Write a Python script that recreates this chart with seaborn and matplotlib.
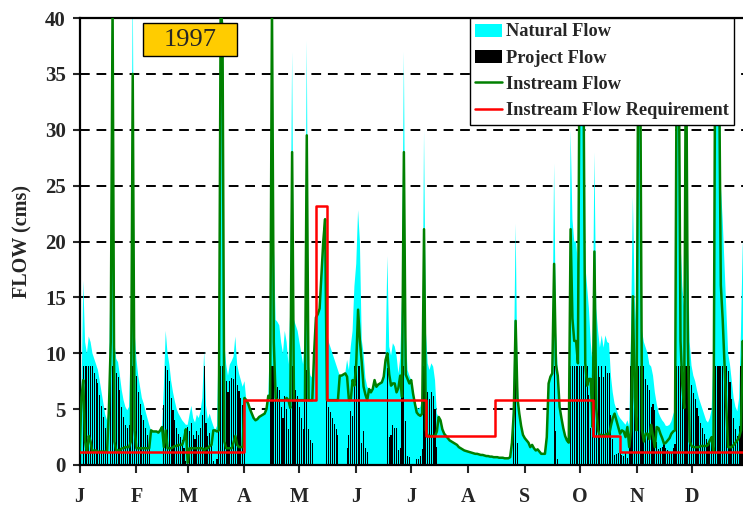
import numpy as np
import matplotlib
matplotlib.use('Agg')
import matplotlib.pyplot as plt
import seaborn as sns
from matplotlib.patches import Patch, Rectangle
from matplotlib.lines import Line2D

# daily flows (cms), Jan 1 .. Dec 31 1997, one line per month
natural = [
    1.0, 6, 16.5, 11, 10, 11.5, 11, 10, 9.5, 9, 8.5, 7.5, 6.5, 5.5, 4.5, 4, 5, 20, 50, 11, 9.5, 9.2, 8, 6.7, 5.8, 5.2, 4.9, 5.2, 11, 44, 12,
    9.5, 8, 7, 6, 5.5, 4.8, 4.2, 3.6, 3.1, 3.0, 3.0, 3.0, 2.9, 3.1, 3.4, 7, 12, 10, 9, 7.5, 6.5, 5.7, 5, 4.6, 4.3, 4.0, 3.8, 3.6,
    3.6, 4.5, 5.3, 4.2, 3.8, 4.5, 4.2, 4.8, 6, 10.2, 5.3, 4.1, 4.6, 4, 3.5, 3.1, 3.5, 12, 50, 48, 11, 9, 8, 9, 9.3, 9.7, 11.5, 9, 8.2, 7.6, 7,
    7.5, 5.8, 5.5, 5.0, 4.6, 4.2, 4.0, 4.1, 4.3, 4.4, 4.5, 4.6, 5, 6.2, 12, 50, 20, 13, 12.8, 12.5, 11, 10, 12, 11, 9, 14, 37, 13, 12.5, 12,
    11, 10, 9, 12, 38, 9, 8, 7.8, 10, 13.2, 13.5, 14, 17, 20, 22, 12, 11, 10.5, 10, 9.5, 9, 8.5, 8, 8, 8.1, 8.2, 9.4, 8.5, 10.6, 12, 16,
    18, 22.8, 20, 11.2, 10, 7.8, 7, 6.8, 6.5, 6.8, 7.6, 7, 7.2, 7.3, 7.4, 7.9, 9.4, 18.7, 10.6, 9.8, 10.9, 10.6, 9.8, 8.2, 9.5, 15, 37, 12, 8.5, 8,
    7.6, 6.4, 5.5, 5.2, 5, 5.2, 6, 30, 12, 9.1, 8.5, 9.1, 8.8, 7.6, 4.6, 4.3, 4.0, 3.2, 2.8, 2.6, 2.4, 2.2, 2.1, 2.0, 1.9, 1.8, 1.6, 1.5, 1.4, 1.3, 1.25,
    1.2, 1.15, 1.1, 1.05, 1.0, 1.0, 0.95, 0.9, 0.9, 0.85, 0.8, 0.8, 0.75, 0.75, 0.7, 0.7, 0.7, 0.65, 0.65, 0.65, 0.6, 0.6, 0.6, 0.7, 2.0, 8, 21.6, 8, 4.6, 3.5, 2.7,
    2.4, 2.2, 2.0, 1.6, 1.8, 1.5, 1.3, 1.4, 1.2, 1.0, 1.0, 1.0, 2.5, 7.3, 7.9, 8.2, 27, 12, 8.5, 5.2, 4.2, 3.3, 2.6, 2.2, 2.0, 30, 22, 20, 20, 18,
    50, 48, 45, 18, 16, 14, 11, 9, 28, 14, 12, 10.5, 11.6, 10.5, 11.6, 11, 10.9, 8, 6.5, 5.5, 5, 4.5, 4.2, 4, 3.8, 3.6, 4, 3.5, 12, 24, 15,
    12, 50, 46, 12, 11, 10.5, 10, 9, 8.8, 8, 6.5, 5.5, 4.7, 4.3, 4, 3.8, 3.5, 3.5, 3.6, 3.9, 4.5, 5, 50, 48, 20, 16, 14, 50, 20, 11,
    8.9, 8, 7.5, 6.7, 6, 5.5, 5, 4.5, 4, 3.8, 4.2, 5, 10, 50, 48, 46, 25, 22, 18, 14, 10, 9, 7.5, 6, 5.2, 4.8, 6, 12, 20, 15, 10,
]

project = [
    0, 0, 8.9, 8.9, 8.9, 8.9, 8.9, 8.9, 8.2, 7.7, 7.3, 6.3, 5.3, 4.3, 3.3, 2.8, 0, 8.9, 8.9, 8.9, 8.2, 7.9, 6.7, 5.2, 4.3, 3.6, 3.3, 3.6, 8.9, 8.9, 8.9,
    8, 6.5, 5.5, 4.5, 4, 3.3, 2.7, 2.1, 0, 0, 0, 0, 0, 0, 0, 5.4, 8.9, 8.5, 7.5, 6, 4.9, 4, 3.3, 2.8, 2.5, 2.2, 1.5, 0.4,
    3.4, 3, 3.8, 2.7, 2.3, 3, 2.7, 3.3, 4.5, 8.9, 3.8, 2.6, 2.9, 2.2, 0.4, 0, 0.5, 8.9, 8.9, 8.9, 8.9, 7.5, 6.5, 7.5, 7.8, 7.7, 8.9, 7.2, 6.6, 6, 5.4,
    1.5, 0, 0, 0, 0, 0, 0, 0, 0, 0, 0, 0, 0, 0, 6, 8.9, 8.9, 7, 7, 6.7, 5.2, 4.2, 6.2, 5, 3.2, 8.9, 8.9, 7.2, 6.7, 6.2,
    5.2, 4.2, 3.2, 6.2, 8.5, 3.2, 2.2, 2, 0, 0, 0, 0, 0, 0, 0, 6.2, 5.2, 4.7, 4.2, 3.7, 3.2, 2.7, 0, 0, 0, 0, 1.5, 2.7, 4.8, 4.4, 8.9,
    8.9, 8.9, 8.9, 2, 3, 1.5, 1.2, 0, 0, 0, 0, 0, 0, 0, 0, 0, 0, 8.7, 2.5, 2.7, 3.6, 3.3, 3.3, 1.3, 1.5, 8.9, 8.9, 3.9, 0.8, 0.7,
    0, 0, 0, 0.5, 0.5, 0.8, 1.4, 8.9, 8.9, 6.5, 5.9, 6.5, 6.2, 5, 1.6, 0, 0, 0, 0, 0, 0, 0, 0, 0, 0, 0, 0, 0, 0, 0, 0,
    0, 0, 0, 0, 0, 0, 0, 0, 0, 0, 0, 0, 0, 0, 0, 0, 0, 0, 0, 0, 0, 0, 0, 0, 0, 3.3, 8.7, 2, 0, 0, 0,
    0, 0, 0, 0, 0, 0, 0, 0, 0, 0, 0, 0, 0, 0, 0, 0, 8.9, 3, 0.5, 0, 0, 0, 0, 0, 0, 8.9, 8.9, 8.9, 8.9, 8.9,
    8.9, 8.9, 8.9, 8.9, 8.9, 6.3, 3.3, 5.6, 8.9, 8.9, 8.9, 7.9, 8.9, 7.9, 8.9, 8.2, 8.2, 4.5, 2.3, 0.9, 1.0, 1.1, 1.4, 0.9, 0.8, 1.1, 0.6, 1.9, 8.9, 8.9, 8.9,
    8.9, 8.9, 8.9, 8.9, 8.9, 7.7, 7.2, 6.7, 5.2, 5.5, 4.9, 2.1, 1.4, 1.5, 1.6, 1.9, 1.5, 1.3, 1.2, 1.1, 1.5, 1.9, 8.9, 8.9, 8.9, 8.9, 8.9, 8.9, 8.9, 8.9,
    7.2, 6.4, 5.9, 5.1, 4.4, 3.8, 3.3, 2.8, 2.3, 2.0, 2.0, 2.5, 8.9, 8.9, 8.9, 8.9, 8.9, 8.9, 8.9, 8.9, 8.4, 7.4, 5.9, 4.2, 3.2, 2.6, 3.5, 8.9, 8.9, 8.9, 8,
]

instream = [
    1.0, 6, 7.6, 2.1, 1.1, 2.6, 2.1, 1.1, 1.3, 1.3, 1.2, 1.2, 1.2, 1.2, 1.2, 1.2, 5, 11, 41, 2.1, 1.3, 1.3, 1.3, 1.5, 1.5, 1.6, 1.6, 1.6, 2.1, 35, 3.1,
    1.5, 1.5, 1.5, 1.5, 1.5, 1.5, 1.5, 1.5, 3.1, 3.0, 3.0, 3.0, 2.9, 3.1, 3.4, 1.6, 3.1, 1.5, 1.5, 1.5, 1.6, 1.7, 1.7, 1.8, 1.8, 1.8, 2.3, 3.2,
    0.2, 1.5, 1.5, 1.5, 1.5, 1.5, 1.5, 1.5, 1.5, 1.3, 1.5, 1.5, 1.7, 1.8, 3.1, 3.1, 3.0, 3.1, 41, 39, 2.1, 1.5, 1.5, 1.5, 1.5, 2.0, 2.6, 1.8, 1.6, 1.6, 1.6,
    6, 5.8, 5.5, 5.0, 4.6, 4.2, 4.0, 4.1, 4.3, 4.4, 4.5, 4.6, 5, 6.2, 6, 41, 11, 6, 5.8, 5.8, 5.8, 5.8, 5.8, 6, 5.8, 5.1, 28, 5.8, 5.8, 5.8,
    5.8, 5.8, 5.8, 5.8, 29.5, 5.8, 5.8, 5.8, 10, 13.2, 13.5, 14, 17, 20, 22, 5.8, 5.8, 5.8, 5.8, 5.8, 5.8, 5.8, 8, 8, 8.1, 8.2, 7.9, 5.8, 5.8, 7.6, 7.1,
    9.1, 13.9, 11.1, 9.2, 7, 6.3, 5.8, 6.8, 6.5, 6.8, 7.6, 7, 7.2, 7.3, 7.4, 7.9, 9.4, 10, 8.1, 7.1, 7.3, 7.3, 6.5, 6.9, 8, 6.1, 28, 8.1, 7.7, 7.3,
    7.6, 6.4, 5.5, 4.7, 4.5, 4.4, 4.6, 21.1, 3.1, 2.6, 2.6, 2.6, 2.6, 2.6, 3.0, 4.3, 4.0, 3.2, 2.8, 2.6, 2.4, 2.2, 2.1, 2.0, 1.9, 1.8, 1.6, 1.5, 1.4, 1.3, 1.25,
    1.2, 1.15, 1.1, 1.05, 1.0, 1.0, 0.95, 0.9, 0.9, 0.85, 0.8, 0.8, 0.75, 0.75, 0.7, 0.7, 0.7, 0.65, 0.65, 0.65, 0.6, 0.6, 0.6, 0.7, 2.0, 4.7, 12.9, 6, 4.6, 3.5, 2.7,
    2.4, 2.2, 2.0, 1.6, 1.8, 1.5, 1.3, 1.4, 1.2, 1.0, 1.0, 1.0, 2.5, 7.3, 7.9, 8.2, 18, 9, 8, 5.2, 4.2, 3.3, 2.6, 2.2, 2.0, 21.1, 13.1, 11.1, 11.1, 9.1,
    41.1, 39.1, 36.1, 9.1, 7.1, 7.7, 7.7, 3.4, 19.1, 5.1, 3.1, 2.6, 2.7, 2.6, 2.7, 2.8, 2.7, 3.5, 4.2, 4.6, 4.0, 3.4, 2.8, 3.1, 3.0, 2.5, 3.4, 1.6, 3.1, 15.1, 6.1,
    3.1, 41.1, 37.1, 3.1, 2.1, 2.8, 2.8, 2.3, 3.6, 2.5, 1.6, 3.4, 3.3, 2.8, 2.4, 1.9, 2.0, 2.2, 2.4, 2.8, 3.0, 3.1, 41.1, 39.1, 11.1, 7.1, 5.1, 41.1, 11.1, 2.1,
    1.7, 1.6, 1.6, 1.6, 1.6, 1.7, 1.7, 1.7, 1.7, 1.8, 2.2, 2.5, 1.1, 41.1, 39.1, 37.1, 16.1, 13.1, 9.1, 5.1, 1.6, 1.6, 1.6, 1.8, 2.0, 2.2, 2.5, 3.1, 11.1, 6.1, 2,
]

# instream flow requirement: day where each step starts and its value
req_start = [0, 90, 129, 135, 189, 227, 280, 295, 365]
req_value = [1.15, 5.8, 23.2, 5.8, 2.6, 5.8, 2.6, 1.15, 1.15]

month_start = [0, 31, 59, 90, 120, 151, 181, 212, 243, 273, 304, 334]
month_labels = ['J', 'F', 'M', 'A', 'M', 'J', 'J', 'A', 'S', 'O', 'N', 'D']
y_ticks = [0, 5, 10, 15, 20, 25, 30, 35, 40]

sns.set_theme(style='ticks')
plt.rcParams['font.family'] = ['Liberation Serif', 'DejaVu Serif']
plt.rcParams['font.weight'] = 'bold'

days = np.arange(len(natural))

fig = plt.figure(figsize=(7.43, 5.12), dpi=100)
ax = fig.add_axes([79.6 / 743, 47 / 512, 668.7 / 743, 447 / 512])

for yv in y_ticks[1:-1]:
    ax.axhline(yv, color='black', lw=1.4, ls=(0, (5, 3.5)), zorder=0)

ax.fill_between(days, 0, natural, color='#00FFFF', lw=0, zorder=1)
ax.bar(days, project, width=0.6, color='black', lw=0, antialiased=False, zorder=2)
sns.lineplot(x=days, y=instream, color='#008000', lw=1.8, ax=ax, zorder=3)
sns.lineplot(x=req_start, y=req_value, color='#FF0000', lw=1.8, ax=ax,
             drawstyle='steps-post', zorder=4)

ax.set_xlim(0, 365)
ax.set_ylim(0, 40)
ax.set_xticks(month_start)
ax.set_xticklabels(month_labels)
ax.set_yticks(y_ticks)
ax.tick_params(axis='x', length=6, width=1.5, pad=10, labelsize=14.5, direction='out')
ax.tick_params(axis='y', length=5, width=1.5, pad=5, labelsize=15, direction='out')
for lab in ax.get_xticklabels() + ax.get_yticklabels():
    lab.set_fontweight('bold')
ax.set_xlabel('')
ax.set_ylabel('FLOW (cms)', fontsize=14.5, fontweight='bold', labelpad=9)
for side in ['left', 'bottom', 'top']:
    ax.spines[side].set_linewidth(1.6)
    ax.spines[side].set_color('black')
ax.spines['right'].set_visible(False)

handles = [
    Patch(facecolor='#00FFFF', edgecolor='none', label='Natural Flow'),
    Patch(facecolor='black', edgecolor='none', label='Project Flow'),
    Line2D([], [], color='#008000', lw=1.8, label='Instream Flow'),
    Line2D([], [], color='#FF0000', lw=1.8, label='Instream Flow Requirement'),
]
leg = ax.legend(handles=handles, loc='upper left',
                bbox_to_anchor=(470 / 743, 1 - 18 / 512),
                bbox_transform=fig.transFigure, borderaxespad=0,
                fancybox=False, framealpha=1, edgecolor='black',
                prop={'family': 'Liberation Serif', 'weight': 'bold', 'size': 13.2},
                handlelength=1.45, handletextpad=0.2, labelspacing=0.5,
                borderpad=0.3)
leg.get_frame().set_linewidth(1.0)
leg.set_zorder(10)

# year badge
fig.patches.append(Rectangle((143 / 743, 1 - 56 / 512), 94 / 743, 33 / 512,
                             transform=fig.transFigure, facecolor='#FFCC00',
                             edgecolor='black', lw=1.0, zorder=10))
fig.text(190 / 743, 1 - 39.5 / 512, '1997', ha='center', va='center',
         fontsize=19, fontweight='normal', family='Liberation Serif', zorder=11)

fig.savefig('out.png', dpi=100)
